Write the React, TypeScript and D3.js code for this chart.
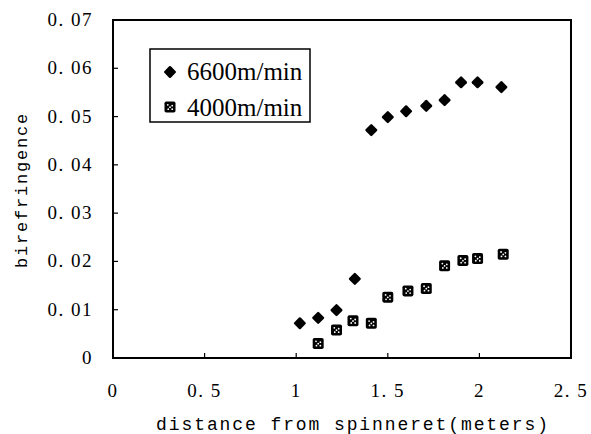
import React from "react";
import * as d3 from "d3";

const xs6600 = [1.02, 1.12, 1.22, 1.32, 1.41, 1.5, 1.6, 1.71, 1.81, 1.9, 1.99, 2.12];
const ys6600 = [0.0072, 0.0083, 0.0099, 0.0164, 0.0472, 0.0499, 0.0511, 0.0522, 0.0534, 0.0571, 0.0571, 0.0561];
const xs4000 = [1.12, 1.22, 1.31, 1.41, 1.5, 1.61, 1.71, 1.81, 1.91, 1.99, 2.13];
const ys4000 = [0.003, 0.0058, 0.0077, 0.0072, 0.0126, 0.0139, 0.0144, 0.0191, 0.0202, 0.0206, 0.0215];

const xTicks = [0, 0.5, 1, 1.5, 2, 2.5];
const xTickLabels = ["0", "0. 5", "1", "1. 5", "2", "2. 5"];
const yTicks = [0, 0.01, 0.02, 0.03, 0.04, 0.05, 0.06, 0.07];
const yTickLabels = ["0", "0. 01", "0. 02", "0. 03", "0. 04", "0. 05", "0. 06", "0. 07"];
const seriesNames = ["6600m/min", "4000m/min"];

const W = 591;
const H = 434;
const L = 113, R = 571, T = 20, B = 358;

const serif = '"Liberation Serif", "DejaVu Serif", serif';
const mono = '"Liberation Mono", "DejaVu Sans Mono", monospace';

function Diamond({ cx, cy, r }: { cx: number; cy: number; r: number }) {
  const s = r * Math.SQRT2;
  return (
    <rect x={cx - s / 2} y={cy - s / 2} width={s} height={s} rx={1.2}
      fill="#000" transform={`rotate(45 ${cx} ${cy})`} />
  );
}

function DotSquare({ cx, cy, s }: { cx: number; cy: number; s: number }) {
  const d = s * 0.2;
  const dots = [[-d, -d], [d, -d * 0.6], [0, 0.2], [-d * 0.8, d], [d, d]];
  return (
    <g>
      <rect x={cx - s / 2} y={cy - s / 2} width={s} height={s} rx={1.8} fill="#000" />
      {dots.map(([dx, dy], i) => (
        <circle key={i} cx={cx + dx} cy={cy + dy} r={0.9} fill="#fff" />
      ))}
    </g>
  );
}

export default function App() {
  const x = d3.scaleLinear().domain([0, 2.5]).range([L, R]);
  const y = d3.scaleLinear().domain([0, 0.07]).range([B, T]);
  const serifStyle = { fontFamily: serif };
  const monoStyle = { fontFamily: mono };

  return (
    <svg width={W} height={H} style={{ position: "absolute", left: 0, top: 0, background: "#fff" }}>
      <rect x={0} y={0} width={W} height={H} fill="#fff" />
      <rect x={L} y={T} width={R - L} height={B - T} fill="none" stroke="#000" strokeWidth={2} />
      {yTicks.map((t, i) => (
        <g key={"y" + i}>
          {i > 0 && i < yTicks.length - 1 && (
            <line x1={L} x2={L + 5} y1={y(t)} y2={y(t)} stroke="#000" strokeWidth={1.2} />
          )}
          <text x={93} y={y(t) + 6} textAnchor="end" style={serifStyle} fontSize={19}
            letterSpacing={1.5} fill="#000">{yTickLabels[i]}</text>
        </g>
      ))}
      {xTicks.map((t, i) => (
        <g key={"x" + i}>
          {i > 0 && i < xTicks.length - 1 && (
            <line x1={x(t)} x2={x(t)} y1={B} y2={B - 5} stroke="#000" strokeWidth={1.2} />
          )}
          <text x={x(t)} y={397} textAnchor="middle" style={serifStyle} fontSize={19}
            letterSpacing={1.5} fill="#000">{xTickLabels[i]}</text>
        </g>
      ))}
      <text x={353} y={430} textAnchor="middle" style={monoStyle} fontSize={18}
        letterSpacing={1.9} fill="#000">distance from spinneret(meters)</text>
      <text transform={`translate(27 190) rotate(-90)`} textAnchor="middle" style={monoStyle}
        fontSize={17} letterSpacing={1.8} fill="#000">birefringence</text>
      {xs6600.map((v, i) => (
        <Diamond key={"a" + i} cx={x(v)} cy={y(ys6600[i])} r={6.5} />
      ))}
      {xs4000.map((v, i) => (
        <DotSquare key={"b" + i} cx={x(v)} cy={y(ys4000[i])} s={11} />
      ))}
      <rect x={150} y={49} width={160} height={73} fill="#fff" stroke="#000" strokeWidth={1.5} />
      <Diamond cx={170} cy={72} r={6.5} />
      <text x={187} y={80} style={serifStyle} fontSize={25} fill="#000">{seriesNames[0]}</text>
      <DotSquare cx={170} cy={107} s={11} />
      <text x={187} y={116} style={serifStyle} fontSize={25} fill="#000">{seriesNames[1]}</text>
    </svg>
  );
}
